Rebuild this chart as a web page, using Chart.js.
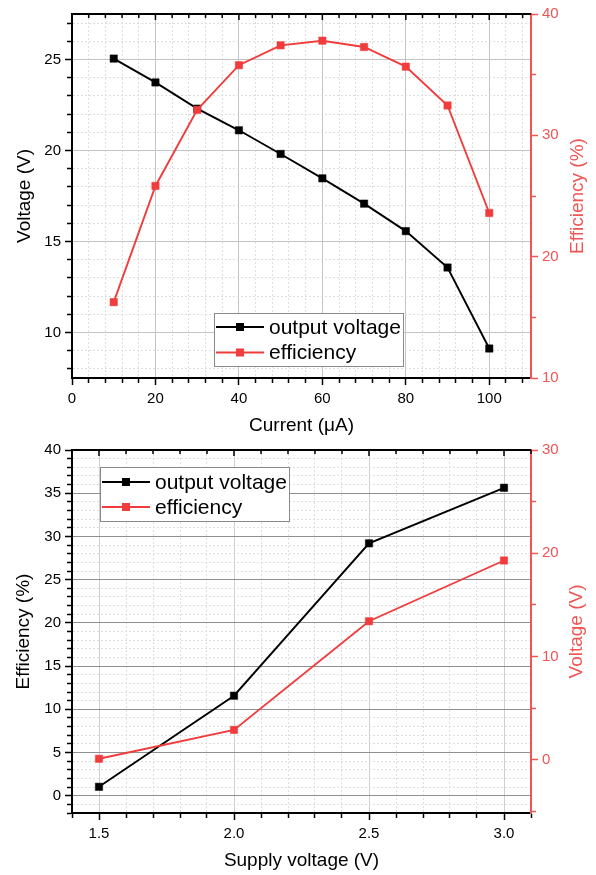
<!DOCTYPE html>
<html>
<head>
<meta charset="utf-8">
<title>Output voltage and efficiency</title>
<script src="https://cdn.jsdelivr.net/npm/chart.js@4.4.1/dist/chart.umd.min.js"></script>
<style>
    html, body { margin: 0; padding: 0; background: #fff; }
    .panel { position: absolute; left: 0; width: 596px; }
    #topPanel { top: 0; height: 437px; }
    #bottomPanel { top: 437px; height: 438px; }
</style>
</head>
<body>
<div class="panel" id="topPanel"><canvas id="currentChart"></canvas></div>
<div class="panel" id="bottomPanel"><canvas id="supplyChart"></canvas></div>
<script>
// Top panel: sweep of load current
const currentUA = [10, 20, 30, 40, 50, 60, 70, 80, 90, 100];
const outputVoltage = [25.05, 23.74, 22.30, 21.11, 19.81, 18.47, 17.08, 15.57, 13.57, 9.12];
const efficiencyPct = [16.25, 25.83, 32.1, 35.78, 37.42, 37.8, 37.28, 35.66, 32.46, 23.6];

// Bottom panel: sweep of supply voltage
const supplyVoltage = [1.5, 2.0, 2.5, 3.0];
const supplyOutput = [1.03, 11.57, 29.2, 35.63];
const supplyEfficiency = [0.1, 2.9, 13.42, 19.3];

// Major tick values (labelled)
const currentTicks = [0, 20, 40, 60, 80, 100];
const voltageTicks = [10, 15, 20, 25];
const efficiencyTicks = [10, 20, 30, 40];
const supplyTicks = [1.5, 2.0, 2.5, 3.0];
const supplyLeftTicks = [0, 5, 10, 15, 20, 25, 30, 35, 40];
const supplyRightTicks = [0, 10, 20, 30];

const FONT = "'Liberation Sans', Arial, sans-serif";
const BLACK = '#000000';
const RED = '#f03c3c';
const AXIS_RED = '#f25454';

Chart.defaults.font.family = FONT;
Chart.defaults.font.size = 15;
Chart.defaults.color = BLACK;

// Build the full tick list (minor + major) for an axis
function buildTicks(min, max, step, majors) {
    const list = [];
    const start = Math.ceil(min / step - 1e-9);
    for (let i = start; i * step <= max + 1e-9; i++) {
        const v = Math.round(i * step * 1000) / 1000;
        list.push({ value: v, isMajor: majors.some(m => Math.abs(m - v) < 1e-9) });
    }
    return list;
}

function isMinor(ctx) {
    return ctx.tick && !ctx.tick.isMajor;
}

// Shared axis settings
function makeAxis(cfg) {
    const tickDashMinor = cfg.position === 'left' ? [0, 2, 4, 50] : [4, 50];
    return {
        type: 'linear',
        position: cfg.position,
        min: cfg.min,
        max: cfg.max,
        afterBuildTicks: (scale) => {
            scale.ticks = buildTicks(cfg.min, cfg.max, cfg.step, cfg.majors);
        },
        afterFit: (scale) => {
            if (cfg.position === 'bottom') scale.height = cfg.size;
            else scale.width = cfg.size;
        },
        ticks: {
            autoSkip: false,
            maxRotation: 0,
            padding: cfg.position === 'bottom' ? 5 : 4,
            color: cfg.color,
            font: { size: 15 },
            callback: function (value) {
                if (!cfg.majors.some(m => Math.abs(m - value) < 1e-9)) return '';
                return cfg.decimals ? value.toFixed(cfg.decimals) : String(value);
            }
        },
        grid: {
            drawOnChartArea: cfg.showGrid,
            color: (ctx) => isMinor(ctx) ? '#dedede' : cfg.majorGrid,
            lineWidth: 1,
            tickLength: 7,
            tickWidth: 1.5,
            tickColor: cfg.color,
            tickBorderDash: (ctx) => isMinor(ctx) ? tickDashMinor : []
        },
        border: {
            display: true,
            color: cfg.color,
            width: 2,
            dash: (ctx) => isMinor(ctx) ? [2, 2] : []
        },
        title: {
            display: !!cfg.title,
            text: cfg.title,
            color: cfg.color,
            font: { size: 19 },
            padding: cfg.titlePadding || { top: 0, bottom: 0 }
        }
    };
}

// Black frame on top with inward ticks, mirroring the x axis
const frameTop = {
    id: 'frameTop',
    afterDatasetsDraw(chart) {
        const { ctx, chartArea, scales } = chart;
        const x = scales.x;
        ctx.save();
        ctx.strokeStyle = BLACK;
        ctx.lineWidth = 1.5;
        x.ticks.forEach(t => {
            const px = x.getPixelForValue(t.value);
            ctx.beginPath();
            ctx.moveTo(px, chartArea.top);
            ctx.lineTo(px, chartArea.top + (t.isMajor ? 6 : 4));
            ctx.stroke();
        });
        ctx.lineWidth = 2;
        ctx.beginPath();
        ctx.moveTo(chartArea.left - 1, chartArea.top);
        ctx.lineTo(chartArea.right, chartArea.top);
        ctx.stroke();
        ctx.restore();
    }
};

// Legend box placed inside the plot area
const boxLegend = {
    id: 'boxLegend',
    afterDatasetsDraw(chart, args, opts) {
        const { ctx, chartArea } = chart;
        const x0 = Math.round(chartArea.left + opts.dx);
        const y0 = Math.round(chartArea.top + opts.dy);
        ctx.save();
        ctx.fillStyle = '#ffffff';
        ctx.fillRect(x0, y0, opts.w, opts.h);
        ctx.strokeStyle = '#8a8a8a';
        ctx.lineWidth = 1;
        ctx.strokeRect(x0 + 0.5, y0 + 0.5, opts.w, opts.h);
        ctx.font = '21px ' + FONT;
        ctx.textBaseline = 'middle';
        chart.data.datasets.forEach((ds, i) => {
            const y = y0 + opts.rows[i];
            ctx.strokeStyle = ds.borderColor;
            ctx.lineWidth = 1.8;
            ctx.beginPath();
            ctx.moveTo(x0 + 2, y);
            ctx.lineTo(x0 + 50, y);
            ctx.stroke();
            ctx.fillStyle = ds.backgroundColor;
            ctx.fillRect(x0 + 26 - 4, y - 4, 8, 8);
            ctx.fillStyle = BLACK;
            ctx.fillText(ds.label, x0 + 55, y + 1);
        });
        ctx.restore();
    }
};

// Right-hand axis title, reading bottom to top
const sideTitle = {
    id: 'sideTitle',
    afterDraw(chart, args, opts) {
        const { ctx, chartArea } = chart;
        ctx.save();
        ctx.translate(opts.x, (chartArea.top + chartArea.bottom) / 2);
        ctx.rotate(-Math.PI / 2);
        ctx.font = '19px ' + FONT;
        ctx.fillStyle = opts.color;
        ctx.textAlign = 'center';
        ctx.textBaseline = 'middle';
        ctx.fillText(opts.text, 0, 0);
        ctx.restore();
    }
};

function lineDataset(label, xs, ys, color, axisId, order) {
    return {
        label: label,
        data: xs.map((x, i) => ({ x: x, y: ys[i] })),
        yAxisID: axisId,
        borderColor: color,
        backgroundColor: color,
        borderWidth: 1.9,
        pointStyle: 'rect',
        pointRadius: 5.2,
        pointBorderWidth: 0.5,
        pointBorderColor: color,
        order: order
    };
}

function initializeCurrentChart() {
    const ctx = document.getElementById('currentChart');
    new Chart(ctx, {
        type: 'line',
        data: {
            datasets: [
                lineDataset('output voltage', currentUA, outputVoltage, BLACK, 'y', 2),
                lineDataset('efficiency', currentUA, efficiencyPct, RED, 'y1', 1)
            ]
        },
        options: {
            responsive: true,
            maintainAspectRatio: false,
            animation: false,
            layout: { padding: { top: 14, left: 0, right: 0, bottom: 0 } },
            scales: {
                x: makeAxis({ position: 'bottom', min: 0, max: 110, step: 4, majors: currentTicks,
                    size: 59, color: BLACK, majorGrid: '#c4c4c4', showGrid: true,
                    title: 'Current (\u03bcA)', titlePadding: { top: 0, bottom: 0 } }),
                y: makeAxis({ position: 'left', min: 7.5, max: 27.5, step: 1, majors: voltageTicks,
                    size: 72, color: BLACK, majorGrid: '#c4c4c4', showGrid: true,
                    title: 'Voltage (V)', titlePadding: { top: 13.6, bottom: 0 } }),
                y1: makeAxis({ position: 'right', min: 10, max: 40, step: 5, majors: efficiencyTicks,
                    size: 65, color: AXIS_RED, majorGrid: '#c4c4c4', showGrid: false })
            },
            plugins: {
                legend: { display: false },
                tooltip: { enabled: false },
                boxLegend: { dx: 142, dy: 299, w: 189, h: 53, rows: [14, 39.5] },
                sideTitle: { text: 'Efficiency (%)', color: AXIS_RED, x: 578 }
            }
        },
        plugins: [frameTop, boxLegend, sideTitle]
    });
}

function initializeSupplyChart() {
    const ctx = document.getElementById('supplyChart');
    const xAxis = makeAxis({ position: 'bottom', min: 1.4, max: 3.1, step: 0.1, majors: supplyTicks,
        size: 62, color: BLACK, majorGrid: '#cfcfcf', showGrid: true, decimals: 1,
        title: 'Supply voltage (V)', titlePadding: { top: 0, bottom: 3 } });
    new Chart(ctx, {
        type: 'line',
        data: {
            datasets: [
                lineDataset('output voltage', supplyVoltage, supplyOutput, BLACK, 'y', 2),
                lineDataset('efficiency', supplyVoltage, supplyEfficiency, RED, 'y1', 1)
            ]
        },
        options: {
            responsive: true,
            maintainAspectRatio: false,
            animation: false,
            layout: { padding: { top: 10, left: 0, right: 0, bottom: 0 } },
            scales: {
                x: xAxis,
                y: makeAxis({ position: 'left', min: -2, max: 40, step: 1, majors: supplyLeftTicks,
                    size: 72, color: BLACK, majorGrid: '#909090', showGrid: true,
                    title: 'Efficiency (%)', titlePadding: { top: 12.6, bottom: 0 } }),
                y1: makeAxis({ position: 'right', min: -5.15, max: 30, step: 5, majors: supplyRightTicks,
                    size: 65, color: AXIS_RED, majorGrid: '#c4c4c4', showGrid: false })
            },
            plugins: {
                legend: { display: false },
                tooltip: { enabled: false },
                boxLegend: { dx: 28, dy: 17, w: 189, h: 54, rows: [15, 40] },
                sideTitle: { text: 'Voltage (V)', color: AXIS_RED, x: 577 }
            }
        },
        plugins: [frameTop, boxLegend, sideTitle]
    });
}

document.addEventListener('DOMContentLoaded', function () {
    initializeCurrentChart();
    initializeSupplyChart();
});
</script>
</body>
</html>
